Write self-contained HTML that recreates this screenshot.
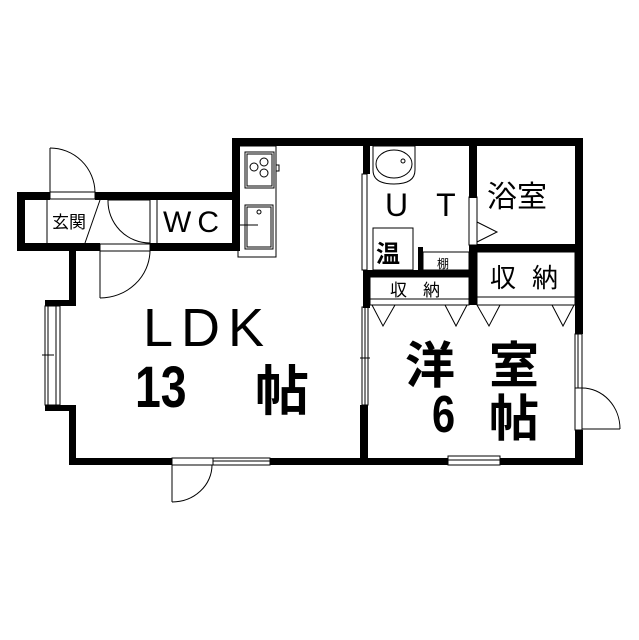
<!DOCTYPE html>
<html><head><meta charset="utf-8"><style>
html,body{margin:0;padding:0;background:#fff;width:639px;height:640px;overflow:hidden}
text{font-family:"Liberation Sans","Noto Sans CJK JP",sans-serif;fill:#000}
.b{font-weight:bold}
</style></head><body>
<svg width="639" height="640" viewBox="0 0 639 640" xmlns="http://www.w3.org/2000/svg">
<g fill="#000">
<rect x="232" y="138" width="351" height="8"/>
<rect x="232" y="138" width="8" height="112"/>
<rect x="17" y="192" width="33" height="8"/>
<rect x="95" y="192" width="140" height="8"/>
<rect x="17" y="192" width="8" height="58"/>
<rect x="17" y="243" width="83" height="8"/>
<rect x="150" y="243" width="90" height="8"/>
<rect x="69" y="250" width="7" height="55"/>
<rect x="45" y="300" width="31" height="6"/>
<rect x="45" y="405" width="31" height="6"/>
<rect x="69" y="405" width="7" height="60"/>
<rect x="69" y="458" width="103" height="7"/>
<rect x="270" y="458" width="178" height="7"/>
<rect x="500" y="458" width="83" height="7"/>
<rect x="575" y="138" width="8" height="196"/>
<rect x="575" y="430" width="8" height="35"/>
<rect x="363" y="138" width="7" height="36"/>
<rect x="363" y="270" width="7" height="38"/>
<rect x="360" y="405" width="8" height="60"/>
<rect x="469" y="138" width="8" height="60"/>
<rect x="469" y="245" width="8" height="60"/>
<rect x="477" y="244" width="100" height="8"/>
<rect x="363" y="270" width="107" height="7"/>
<rect x="418" y="247" width="5" height="23"/>
</g>
<g fill="none" stroke="#000" stroke-width="1">
<line x1="50" y1="148" x2="50" y2="192"/>
<path d="M50 148 A45 45 0 0 1 95 192"/>
<rect x="50" y="192" width="45" height="7"/>
<line x1="47" y1="200" x2="47" y2="243"/>
<line x1="100" y1="200" x2="85" y2="243"/>
<path d="M108 200 A42 42 0 0 0 150 243"/>
<line x1="108" y1="200" x2="150" y2="200"/>
<rect x="150" y="199" width="7" height="45"/>
<rect x="100" y="244" width="50" height="7"/>
<line x1="100" y1="251" x2="100" y2="298"/>
<path d="M150 251 A50 48 0 0 1 100 298"/>
<rect x="238" y="146" width="38" height="111"/>
<rect x="245" y="152" width="29" height="36"/>
<rect x="247" y="154" width="25" height="32"/>
<circle cx="264" cy="162" r="4"/><circle cx="254" cy="167" r="4"/><circle cx="264" cy="173" r="4"/>
<rect x="276" y="165" width="3" height="6"/>
<rect x="245" y="205" width="28" height="44"/>
<rect x="247" y="207" width="24" height="40"/>
<circle cx="259" cy="212" r="2"/>
<line x1="238" y1="225" x2="258" y2="225"/>
<rect x="45" y="306" width="15" height="99"/>
<line x1="48" y1="306" x2="48" y2="405"/>
<line x1="56" y1="306" x2="56" y2="405"/>
<line x1="42" y1="355" x2="54" y2="355"/>
<rect x="172" y="458" width="41" height="7"/>
<line x1="172" y1="465" x2="172" y2="502"/>
<path d="M212 465 A40 37 0 0 1 172 502"/>
<rect x="213" y="458" width="57" height="7"/>
<line x1="213" y1="461" x2="270" y2="461"/>
<rect x="448" y="456" width="52" height="9"/>
<line x1="448" y1="460" x2="500" y2="460"/>
<rect x="362" y="307" width="6" height="98"/>
<line x1="365" y1="307" x2="365" y2="405"/>
<line x1="360" y1="358" x2="370" y2="358"/>
<rect x="362" y="174" width="5" height="96"/>
<rect x="575" y="334" width="7" height="54"/>
<line x1="578" y1="334" x2="578" y2="388"/>
<rect x="575" y="388" width="7" height="42"/>
<path d="M582 388 A38 41 0 0 1 620 429"/>
<line x1="582" y1="429" x2="620" y2="429"/>
<path d="M373 146 L415 146 L415 170 Q415 184 394 184 Q373 184 373 170 Z"/>
<ellipse cx="394" cy="164" rx="18" ry="14"/>
<circle cx="403" cy="161" r="2"/>
<rect x="469" y="197" width="8" height="48"/>
<path d="M477 222 L497 232 L477 242"/>
<rect x="373" y="228" width="40" height="42"/>
<rect x="423" y="252" width="46" height="18"/>
<rect x="370" y="277" width="99" height="22"/>
<rect x="477" y="252" width="98" height="45"/>
<rect x="370" y="299" width="99" height="6"/>
<rect x="477" y="297" width="98" height="8"/>
<path d="M372 305 L383 326 L395 305"/>
<path d="M445 305 L456 326 L467 305"/>
<path d="M477 305 L489 326 L500 305"/>
<path d="M552 305 L563 326 L574 305"/>
</g>
<text x="52" y="228" font-size="17">玄関</text>
<text x="163" y="232" font-size="30" letter-spacing="6">WC</text>
<text x="385" y="216" font-size="32" letter-spacing="28">UT</text>
<text x="487" y="207" font-size="30">浴室</text>
<text x="376" y="262" font-size="24" class="b">温</text>
<text x="437" y="268" font-size="12">棚</text>
<text x="390" y="296" font-size="17" letter-spacing="16">収納</text>
<text x="490" y="287" font-size="26" letter-spacing="16">収納</text>
<text x="143" y="346" font-size="54" letter-spacing="8">LDK</text>
<text x="135" y="407" font-size="58" class="b" transform="translate(135,0) scale(0.8,1) translate(-135,0)">13</text>
<text x="255" y="410" font-size="54" class="b">帖</text>
<text x="405" y="383" font-size="50" class="b">洋</text>
<text x="489" y="383" font-size="50" class="b">室</text>
<text x="432" y="432" font-size="52" class="b" transform="translate(432,0) scale(0.8,1) translate(-432,0)">6</text>
<text x="489" y="436" font-size="50" class="b">帖</text>
</svg>
</body></html>
